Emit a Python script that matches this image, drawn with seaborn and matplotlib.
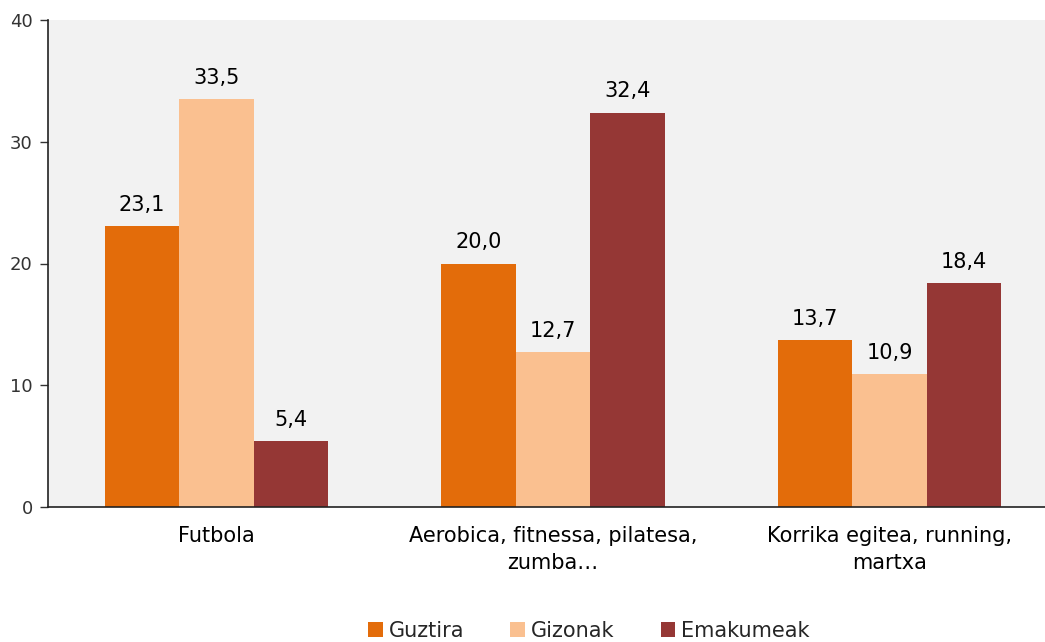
import matplotlib
matplotlib.use("Agg")
import matplotlib.pyplot as plt
import seaborn as sns
import pandas as pd
from matplotlib.patches import Patch

categories = ["Futbola", "Aerobica, fitnessa, pilatesa,\nzumba…", "Korrika egitea, running,\nmartxa"]
series = ["Guztira", "Gizonak", "Emakumeak"]
guztira = [23.1, 20.0, 13.7]
gizonak = [33.5, 12.7, 10.9]
emakumeak = [5.4, 32.4, 18.4]
colors = ["#E36C0A", "#FAC090", "#953735"]
yticks = [0, 10, 20, 30, 40]

rows = []
for s, vals in zip(series, [guztira, gizonak, emakumeak]):
    for c, v in zip(categories, vals):
        rows.append({"cat": c, "serie": s, "val": v})
df = pd.DataFrame(rows)

sns.set_theme(style="white")
plt.rcParams["font.family"] = ["DejaVu Sans"]

fig = plt.figure(figsize=(10.45, 6.42), dpi=100)
ax = fig.add_axes([48/1045, 1 - 507/642, 1010/1045, 487/642])
ax.set_facecolor("#F2F2F2")

sns.barplot(data=df, x="cat", y="val", hue="serie", order=categories, hue_order=series,
            palette=colors, width=0.664, saturation=1, ax=ax, legend=False, errorbar=None)

for cont in ax.containers:
    for p in cont.patches:
        p.set_linewidth(0)
    ax.bar_label(cont, labels=[f"{v:.1f}".replace(".", ",") for v in cont.datavalues],
                 padding=8, fontsize=15, color="#000000")

ax.set_xlim(-0.5, 2.5)
ax.set_ylim(0, 40)
ax.set_yticks(yticks)
ax.set_yticklabels([str(t) for t in yticks], fontsize=13, color="#333333")
ax.set_xticks(range(len(categories)))
ax.set_xticklabels(categories, fontsize=15, color="#000000", linespacing=1.4)
ax.tick_params(axis="x", which="major", length=0, pad=14)
ax.set_xticks([-0.5, 0.5, 1.5, 2.5], minor=True)
ax.tick_params(axis="x", which="minor", length=6, color="#808080", width=1.2, direction="out")
ax.tick_params(axis="y", length=6, width=1, color="#333333", direction="out", left=True, pad=5)
ax.set_xlabel("")
ax.set_ylabel("")
for s in ["top", "right"]:
    ax.spines[s].set_visible(False)
for s in ["left", "bottom"]:
    ax.spines[s].set_visible(True)
    ax.spines[s].set_color("#222222")
    ax.spines[s].set_linewidth(1.2)

handles = [Patch(facecolor=c, edgecolor="none", label=s) for s, c in zip(series, colors)]
fig.legend(handles=handles, loc="center", bbox_to_anchor=(589/1045, 1 - 631/642), ncol=3,
           frameon=False, fontsize=15, handlelength=0.7, handleheight=0.7,
           handletextpad=0.3, columnspacing=2.2, borderpad=0)

fig.savefig("out.png", dpi=100)
